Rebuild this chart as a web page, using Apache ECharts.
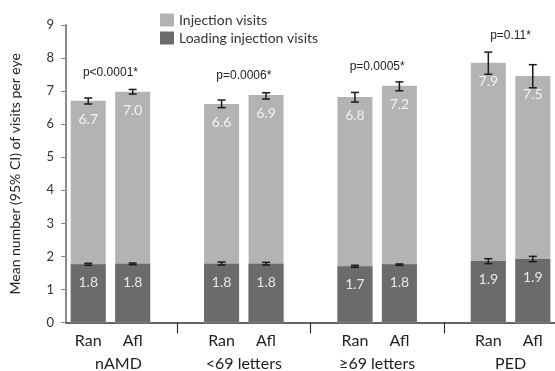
<!DOCTYPE html>
<html>
<head>
<meta charset="utf-8">
<script src="https://cdn.jsdelivr.net/npm/echarts@6/dist/echarts.min.js"></script>
<style>html,body{margin:0;padding:0;background:#fff}#c{width:555px;height:371px}</style>
</head>
<body>
<div id="c"></div>
<script>
// ---- data ----
var groups = ['nAMD', '<69 letters', '\u226569 letters', 'PED'];
var treatments = ['Ran', 'Afl'];
// Injection visits (total), per group: Ran, Afl
var injectionMean = [6.71, 6.98, 6.61, 6.88, 6.82, 7.16, 7.86, 7.46];
var injectionLow  = [6.61, 6.91, 6.50, 6.76, 6.67, 7.01, 7.51, 7.10];
var injectionHigh = [6.79, 7.05, 6.73, 6.95, 6.96, 7.28, 8.18, 7.80];
// Loading injection visits
var loadingMean = [1.76, 1.78, 1.78, 1.78, 1.70, 1.76, 1.86, 1.92];
var loadingLow  = [1.73, 1.75, 1.74, 1.74, 1.67, 1.73, 1.78, 1.84];
var loadingHigh = [1.79, 1.80, 1.83, 1.82, 1.73, 1.77, 1.93, 2.00];
// p-value annotations
var pLabels = ['p<0.0001*', 'p=0.0006*', 'p=0.0005*', 'p=0.11*'];
var pLabelY = [7.56, 7.47, 7.75, 8.69];
var yTicks = [0, 1, 2, 3, 4, 5, 6, 7, 8, 9];

// ---- build categories (with gap slots between groups) ----
var categories = [];
var barIndex = []; // category index for each bar
groups.forEach(function (g, gi) {
  treatments.forEach(function (t) {
    barIndex.push(categories.length);
    categories.push(g + '|' + t);
  });
  if (gi < groups.length - 1) categories.push('gap' + gi);
});
function fill(arr) {
  var out = categories.map(function () { return null; });
  arr.forEach(function (v, i) { out[barIndex[i]] = v; });
  return out;
}
function errData(low, high) {
  return low.map(function (l, i) { return [barIndex[i], l, high[i]]; });
}

var FONT = 'Lato, "Open Sans", sans-serif';
var LIGHT = '#b3b3b3', DARK = '#6b6b6b';

function errorRender(params, api) {
  var x = api.value(0);
  var lo = api.coord([x, api.value(1)]);
  var hi = api.coord([x, api.value(2)]);
  var cap = 4;
  var st = { stroke: '#1a1a1a', lineWidth: 1.5 };
  return {
    type: 'group',
    children: [
      { type: 'line', shape: { x1: lo[0], y1: lo[1], x2: hi[0], y2: hi[1] }, style: st },
      { type: 'line', shape: { x1: lo[0] - cap, y1: lo[1], x2: lo[0] + cap, y2: lo[1] }, style: st },
      { type: 'line', shape: { x1: hi[0] - cap, y1: hi[1], x2: hi[0] + cap, y2: hi[1] }, style: st }
    ]
  };
}

var chart = echarts.init(document.getElementById('c'), null, { renderer: 'canvas' });
chart.setOption({
  animation: false,
  backgroundColor: '#ffffff',
  grid: { left: 59, right: -3, top: 25, bottom: 48.5, containLabel: false },
  legend: {
    orient: 'vertical', left: 155, top: 8,
    itemWidth: 14, itemHeight: 13, itemGap: 4,
    icon: 'rect',
    textStyle: { fontFamily: FONT, fontSize: 14, color: '#333' },
    data: ['Injection visits', 'Loading injection visits']
  },
  xAxis: {
    type: 'category',
    data: categories,
    axisLine: { lineStyle: { color: '#333', width: 1.5 } },
    axisTick: {
      show: true, alignWithLabel: true, length: 11,
      interval: function (i, v) { return v.indexOf('gap') === 0; },
      lineStyle: { color: '#333', width: 1.2 }
    },
    axisLabel: {
      interval: 0, margin: 10,
      fontFamily: FONT, fontSize: 16, color: '#222',
      formatter: function (v) { return v.indexOf('|') >= 0 ? v.split('|')[1] : ''; }
    },
    splitLine: { show: false }
  },
  yAxis: {
    type: 'value', min: yTicks[0], max: yTicks[yTicks.length - 1], interval: 1,
    name: 'Mean number (95% CI) of visits per eye',
    nameLocation: 'middle', nameGap: 44,
    nameTextStyle: { fontFamily: FONT, fontSize: 14, color: '#222' },
    axisLine: { show: true, lineStyle: { color: '#8a8a8a', width: 2 } },
    axisTick: { show: true, length: 5, lineStyle: { color: '#8a8a8a', width: 1 } },
    axisLabel: { margin: 12, fontFamily: FONT, fontSize: 13, color: '#333' },
    splitLine: { show: false }
  },
  series: [
    {
      name: 'Injection visits', type: 'bar', barWidth: 35, barGap: '-100%',
      itemStyle: { color: LIGHT },
      label: {
        show: true, position: 'insideTop', distance: 11,
        fontFamily: FONT, fontSize: 14, color: '#f2f2f2', lineHeight: 15,
        formatter: function (p) { return p.value == null ? '' : p.value.toFixed(1); }
      },
      data: fill(injectionMean), z: 2
    },
    {
      name: 'Loading injection visits', type: 'bar', barWidth: 35, barGap: '-100%',
      itemStyle: { color: DARK },
      label: {
        show: true, position: 'insideTop', distance: 11,
        fontFamily: FONT, fontSize: 14, color: '#e8e8e8', lineHeight: 15,
        formatter: function (p) { return p.value == null ? '' : p.value.toFixed(1); }
      },
      data: fill(loadingMean), z: 3
    },
    {
      type: 'custom', renderItem: errorRender, data: errData(injectionLow, injectionHigh),
      encode: { x: 0, y: [1, 2] }, z: 5, silent: true
    },
    {
      type: 'custom', renderItem: errorRender, data: errData(loadingLow, loadingHigh),
      encode: { x: 0, y: [1, 2] }, z: 5, silent: true
    }
  ]
});

// annotations: p-values and group labels, positioned through the axes
var gr = [];
groups.forEach(function (g, gi) {
  var a = barIndex[gi * 2], b = barIndex[gi * 2 + 1];
  var pa = chart.convertToPixel({ xAxisIndex: 0, yAxisIndex: 0 }, [a, pLabelY[gi]]);
  var pb = chart.convertToPixel({ xAxisIndex: 0, yAxisIndex: 0 }, [b, pLabelY[gi]]);
  var cx = (pa[0] + pb[0]) / 2;
  gr.push({
    type: 'text', x: cx, y: pa[1],
    style: { text: pLabels[gi], fontFamily: '"Liberation Sans", Arial, sans-serif', fontSize: 12,
      fill: '#222', align: 'center', verticalAlign: 'middle' }
  });
  var base = chart.convertToPixel({ xAxisIndex: 0, yAxisIndex: 0 }, [a, 0]);
  gr.push({
    type: 'text', x: cx + (gi === 0 ? 8 : 0), y: base[1] + 41,
    style: { text: g, fontFamily: FONT, fontSize: 16, fill: '#222', align: 'center', verticalAlign: 'middle' }
  });
});
chart.setOption({ graphic: gr });
</script>
</body>
</html>
